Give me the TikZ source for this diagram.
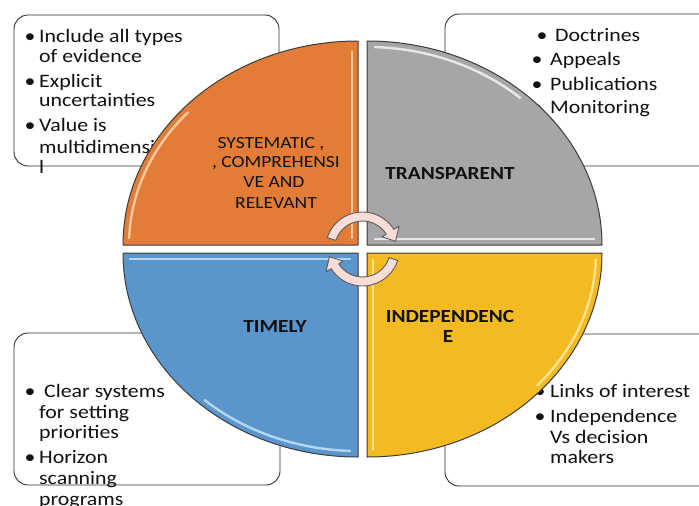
\documentclass[tikz,border=0pt]{standalone}
\usepackage{fontspec}
\setmainfont{Carlito}[FakeStretch=1.15]
\usetikzlibrary{calc}
\definecolor{qorange}{HTML}{E27C36}
\definecolor{qgray}{HTML}{A6A6A6}
\definecolor{qblue}{HTML}{5A96CC}
\definecolor{qyellow}{HTML}{F4BA22}
\definecolor{hlorange}{HTML}{FBD5B3}
\definecolor{hlgray}{HTML}{F4F4F4}
\definecolor{hlblue}{HTML}{C4E2FA}
\definecolor{hlyellow}{HTML}{FCEBA6}
\definecolor{quadline}{HTML}{3C3C3C}
\definecolor{boxline}{HTML}{2E2E2E}
\definecolor{ink}{HTML}{111111}
\definecolor{arrowfill}{HTML}{F8DDD6}
\definecolor{arrowline}{HTML}{5A5A5A}
\begin{document}
\begin{tikzpicture}[x=1pt,y=-1pt,
  infobox/.style={draw=boxline,line width=0.9pt,fill=white,rounded corners=14pt},
  quad/.style={draw=quadline,line width=1pt,line join=round},
  shine/.style={line width=2.4pt,line cap=round,draw opacity=0.85},
  body/.style={anchor=base west,inner sep=0pt,font=\fontsize{19}{20.5}\selectfont,text=ink},
  dot/.style={anchor=base,inner sep=0pt,font=\fontsize{19}{20.5}\selectfont,text=ink},
  lbl/.style={anchor=base,inner sep=0pt,font=\fontsize{17}{20}\selectfont,text=ink},
  lblb/.style={anchor=base,inner sep=0pt,font=\fontsize{18.5}{20}\selectfont\bfseries,text=ink},
  turn/.style={fill=arrowfill,draw=arrowline,line width=0.9pt,line join=round}]
\useasboundingbox (0,0) rectangle (699,506);
\clip (0,0) rectangle (699,506);

% rounded text boxes
\draw[infobox] (14,15) rectangle (279,166);
\draw[infobox] (445,14) rectangle (716,166);
\draw[infobox] (14,333) rectangle (280,485);
\draw[infobox] (445,334) rectangle (716,486);

% top-left list
\foreach \y/\t [count=\i] in {42/Include all types,62/of evidence,87/Explicit,106/uncertainties,131/Value is,153/multidimensiona,173/l}
  \node[body] (tl\i) at (39,\y) {\t};
\foreach \y [count=\i] in {42,87,131}
  \node[dot] (tlb\i) at (30,\y) {•};

% top-right list
\node[body] (tr1) at (555,41) {Doctrines};
\node[dot] (trb1) at (542,41) {•};
\foreach \y/\t [count=\i from 2] in {65/Appeals,90/Publications,113/Monitoring}{
  \node[body] (tr\i) at (550,\y) {\t};
  \node[dot] (trb\i) at (537,\y) {•};
}

% bottom-left list
\node[body] (bl1) at (44,397) {Clear systems};
\foreach \y/\t [count=\i from 2] in {418/for setting,438/priorities,463/Horizon,484/scanning,505/programs}
  \node[body] (bl\i) at (39,\y) {\t};
\foreach \y [count=\i] in {397,463}
  \node[dot] (blb\i) at (30,\y) {•};

% bottom-right list
\foreach \y/\t [count=\i] in {397/Links of interest,422/Independence,443/Vs decision,463/makers}
  \node[body] (br\i) at (550,\y) {\t};
\foreach \y [count=\i] in {397,422}
  \node[dot] (brb\i) at (540,\y) {•};

% four quarter-ellipse segments
\filldraw[quad,fill=qorange] (358,245) -- (123,245) arc[start angle=180,end angle=270,x radius=235,y radius=204] -- cycle;
\filldraw[quad,fill=qgray] (367,245) -- (367,41) arc[start angle=270,end angle=360,x radius=235,y radius=204] -- cycle;
\filldraw[quad,fill=qyellow] (367,253) -- (602,253) arc[start angle=0,end angle=90,x radius=235,y radius=204] -- cycle;
\filldraw[quad,fill=qblue] (358,253) -- (358,457) arc[start angle=90,end angle=180,x radius=235,y radius=204] -- cycle;

% bevel highlights
\draw[shine,draw=hlorange] (352,52) -- (352,238);
\draw[shine,draw=hlorange] ($(358,245)+(182:229 and 198)$) arc[start angle=182,end angle=222,x radius=229,y radius=198];
\draw[shine,draw=hlgray] (375,239) -- (594,239);
\draw[shine,draw=hlgray] ($(367,245)+(272:229 and 198)$) arc[start angle=272,end angle=312,x radius=229,y radius=198];
\draw[shine,draw=hlyellow] (373,260) -- (373,450);
\draw[shine,draw=hlyellow] ($(367,253)+(2:229 and 198)$) arc[start angle=2,end angle=42,x radius=229,y radius=198];
\draw[shine,draw=hlblue] (130,259) -- (350,259);
\draw[shine,draw=hlblue] ($(358,253)+(92:229 and 198)$) arc[start angle=92,end angle=132,x radius=229,y radius=198];

% segment titles
\node[lbl] (sys1) at (271,148) {SYSTEMATIC ,};
\node[lbl] (sys2) at (276,167) {, COMPREHENSI};
\node[lbl] (sys3) at (274,187) {VE AND};
\node[lbl] (sys4) at (276,208) {RELEVANT};
\node[lblb] (tra) at (450,179) {TRANSPARENT};
\node[lblb] (tim) at (275,332) {TIMELY};
\node[lblb] (ind1) at (450,322) {INDEPENDENC};
\node[lblb] (ind2) at (448,342) {E};

% circular arrows in the middle
\coordinate (hub) at (362.5,249);
\draw[turn] ($(hub)+(-162:37)$) arc[start angle=-162,end angle=-32,radius=37]
  -- ($(hub)+(-32:43)$) -- ($(hub)+(-13:34)$) -- ($(hub)+(-32:23)$)
  -- ($(hub)+(-32:28)$) arc[start angle=-32,end angle=-162,radius=28] -- cycle;
\draw[turn] ($(hub)+(18:37)$) arc[start angle=18,end angle=148,radius=37]
  -- ($(hub)+(148:43)$) -- ($(hub)+(167:34)$) -- ($(hub)+(148:23)$)
  -- ($(hub)+(148:28)$) arc[start angle=148,end angle=18,radius=28] -- cycle;
\end{tikzpicture}
\end{document}
